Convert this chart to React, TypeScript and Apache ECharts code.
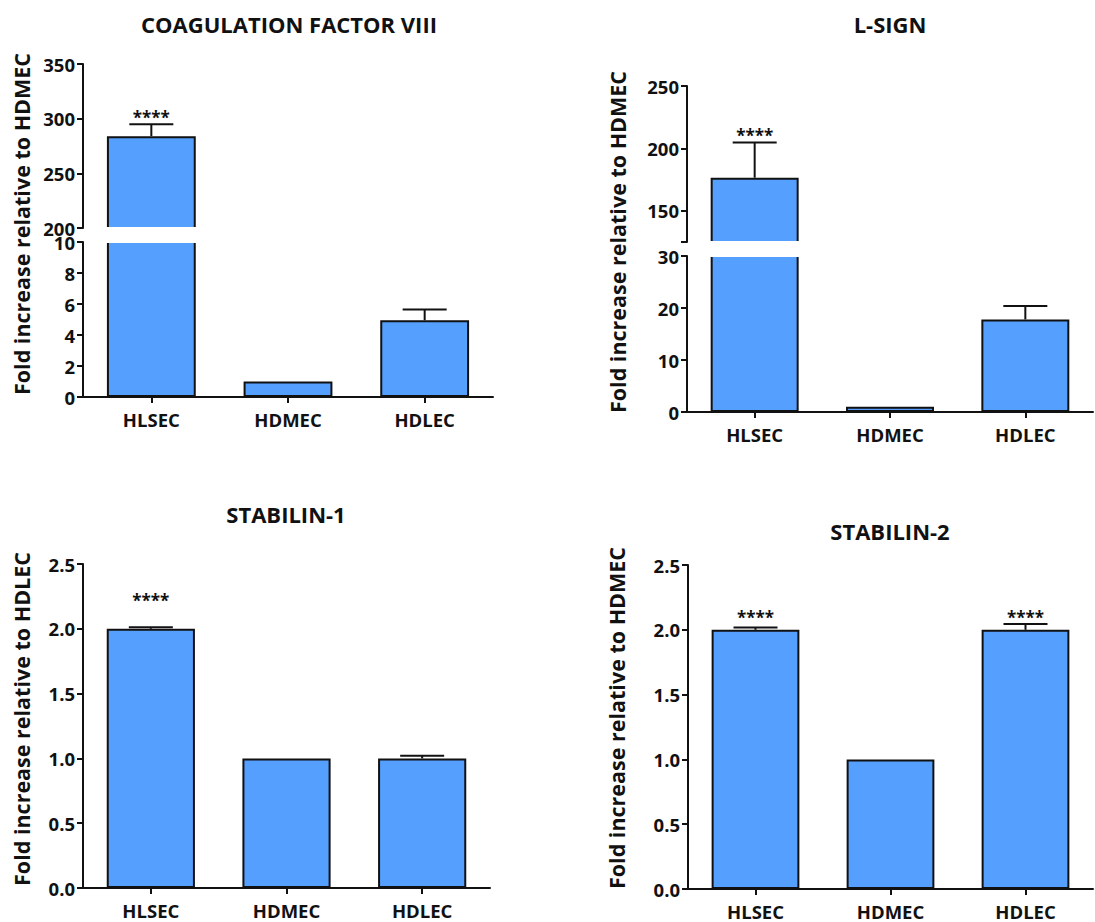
import React, { useEffect, useRef } from 'react';
import * as echarts from 'echarts';

// ---------------- data ----------------
const categories = ['HLSEC', 'HDMEC', 'HDLEC'];

const f8Title = 'COAGULATION FACTOR VIII';
const f8YTitle = 'Fold increase relative to HDMEC';
const f8Mean = [284, 1, 4.95];
const f8Err = [11, 0, 0.7];
const f8Stars = ['****', '', ''];
const f8UpperRange = [200, 350];
const f8UpperTicks = [200, 250, 300, 350];
const f8LowerRange = [0, 10];
const f8LowerTicks = [0, 2, 4, 6, 8, 10];

const lsignTitle = 'L-SIGN';
const lsignYTitle = 'Fold increase relative to HDMEC';
const lsignMean = [176.5, 1, 17.8];
const lsignErr = [28.3, 0, 2.6];
const lsignStars = ['****', '', ''];
const lsignUpperRange = [125, 250];
const lsignUpperTickMarks = [125, 150, 200, 250];
const lsignUpperTicks = [150, 200, 250];
const lsignLowerRange = [0, 30];
const lsignLowerTicks = [0, 10, 20, 30];

const stab1Title = 'STABILIN-1';
const stab1YTitle = 'Fold increase relative to HDLEC';
const stab1Mean = [2.0, 1.0, 1.0];
const stab1Err = [0.012, 0, 0.02];
const stab1Stars = ['****', '', ''];

const stab2Title = 'STABILIN-2';
const stab2YTitle = 'Fold increase relative to HDMEC';
const stab2Mean = [2.0, 1.0, 2.0];
const stab2Err = [0.018, 0, 0.044];
const stab2Stars = ['****', '', '****'];

const stabRange = [0, 2.5];
const stabTicks = [0, 0.5, 1.0, 1.5, 2.0, 2.5];

// ---------------- style / layout ----------------
const FONT = '"Open Sans", "DejaVu Sans", sans-serif';
const INK = '#111111';
const BAR = '#559ffe';

type Seg = { top: number; bottom: number; range: number[]; tickMarks: number[]; labels: number[] };
type Panel = {
  title: string; titleX: number; titleY: number;
  yTitle: string; yTitleX: number; yTitleY: number;
  left: number; width: number; segs: Seg[];
  mean: number[]; err: number[]; stars: string[]; starGap: number;
  fmt: (v: number) => string;
};

const intFmt = (v: number) => String(v);
const decFmt = (v: number) => v.toFixed(1);

const panels: Panel[] = [
  {
    title: f8Title, titleX: 289, titleY: 24,
    yTitle: f8YTitle, yTitleX: 21, yTitleY: 224,
    left: 83, width: 410,
    segs: [
      { top: 64, bottom: 228, range: f8UpperRange, tickMarks: f8UpperTicks, labels: f8UpperTicks },
      { top: 242, bottom: 397, range: f8LowerRange, tickMarks: f8LowerTicks, labels: f8LowerTicks },
    ],
    mean: f8Mean, err: f8Err, stars: f8Stars, starGap: 10, fmt: intFmt,
  },
  {
    title: lsignTitle, titleX: 890, titleY: 24,
    yTitle: lsignYTitle, yTitleX: 617, yTitleY: 242,
    left: 687, width: 406,
    segs: [
      { top: 86, bottom: 242, range: lsignUpperRange, tickMarks: lsignUpperTickMarks, labels: lsignUpperTicks },
      { top: 256, bottom: 412, range: lsignLowerRange, tickMarks: lsignLowerTicks, labels: lsignLowerTicks },
    ],
    mean: lsignMean, err: lsignErr, stars: lsignStars, starGap: 10, fmt: intFmt,
  },
  {
    title: stab1Title, titleX: 286, titleY: 514,
    yTitle: stab1YTitle, yTitleX: 21, yTitleY: 719,
    left: 83, width: 407,
    segs: [{ top: 564, bottom: 888, range: stabRange, tickMarks: stabTicks, labels: stabTicks }],
    mean: stab1Mean, err: stab1Err, stars: stab1Stars, starGap: 30, fmt: decFmt,
  },
  {
    title: stab2Title, titleX: 890, titleY: 531,
    yTitle: stab2YTitle, yTitleX: 616, yTitleY: 718,
    left: 688, width: 405,
    segs: [{ top: 565, bottom: 889, range: stabRange, tickMarks: stabTicks, labels: stabTicks }],
    mean: stab2Mean, err: stab2Err, stars: stab2Stars, starGap: 10, fmt: decFmt,
  },
];

function buildOption() {
  const grid: any[] = [];
  const xAxis: any[] = [];
  const yAxis: any[] = [];
  const series: any[] = [];
  const graphic: any[] = [];

  panels.forEach((p) => {
    graphic.push({
      type: 'text', x: p.titleX, y: p.titleY, z: 100,
      style: { text: p.title, align: 'center', verticalAlign: 'middle', fill: INK, fontSize: 22, fontWeight: 'bold', fontFamily: FONT },
    });
    graphic.push({
      type: 'text', x: p.yTitleX, y: p.yTitleY, rotation: Math.PI / 2, z: 100,
      style: { text: p.yTitle, align: 'center', verticalAlign: 'middle', fill: INK, fontSize: 21.5, fontWeight: 'bold', fontFamily: FONT },
    });

    const starred = p.stars.map((s, i) => (s ? i : -1)).filter((i) => i >= 0);
    const starLevel = Math.max(...starred.map((i) => p.mean[i] + p.err[i]));

    p.segs.forEach((s, si) => {
      const gi = grid.length;
      const isBottom = si === p.segs.length - 1;
      grid.push({ left: p.left, top: s.top, width: p.width, height: s.bottom - s.top, outerBoundsMode: 'none' });
      xAxis.push({
        type: 'category', gridIndex: gi, data: categories, show: isBottom,
        axisLine: { show: true, onZero: false, lineStyle: { color: INK, width: 2 } },
        axisTick: { show: true, alignWithLabel: true, length: 6, lineStyle: { color: INK, width: 2 } },
        axisLabel: { color: INK, fontSize: 18.5, fontWeight: 'bold', fontFamily: FONT, margin: 15, lineHeight: 14 },
        splitLine: { show: false },
      });
      yAxis.push({
        type: 'value', gridIndex: gi, min: s.range[0], max: s.range[1],
        axisLine: { show: true, onZero: false, lineStyle: { color: INK, width: 2 } },
        axisTick: { show: true, length: 6, lineStyle: { color: INK, width: 2 }, customValues: s.tickMarks },
        axisLabel: {
          color: INK, fontSize: 18.5, fontWeight: 'bold', fontFamily: FONT, margin: 8, lineHeight: 13,
          customValues: s.labels, formatter: p.fmt,
        },
        splitLine: { show: false },
      });
      series.push({
        type: 'bar', xAxisIndex: gi, yAxisIndex: gi, silent: true, clip: true,
        data: p.mean.map((v) => (v > s.range[0] ? v : '-')),
        barWidth: '65%',
        itemStyle: { color: BAR, borderColor: INK, borderWidth: 2 },
      });
      const errData = p.mean
        .map((v, i) => [i, v, p.err[i]])
        .filter((d) => d[1] >= s.range[0] && d[1] <= s.range[1] && d[2] > 0);
      series.push({
        type: 'custom', xAxisIndex: gi, yAxisIndex: gi, silent: true,
        data: errData,
        renderItem: (params: any, api: any) => {
          const i = api.value(0), v = api.value(1), e = api.value(2);
          const a = api.coord([i, v]);
          const b = api.coord([i, v + e]);
          return {
            type: 'group',
            children: [
              { type: 'line', shape: { x1: a[0], y1: a[1], x2: b[0], y2: b[1] }, style: { stroke: INK, lineWidth: 2 } },
              { type: 'line', shape: { x1: b[0] - 22, y1: b[1], x2: b[0] + 22, y2: b[1] }, style: { stroke: INK, lineWidth: 2 } },
            ],
          };
        },
      });
      if (starred.length && starLevel >= s.range[0] && starLevel <= s.range[1]) {
        series.push({
          type: 'custom', xAxisIndex: gi, yAxisIndex: gi, silent: true,
          data: starred.map((i) => [i, starLevel]),
          renderItem: (params: any, api: any) => {
            const i = api.value(0);
            const c = api.coord([i, api.value(1)]);
            return {
              type: 'text', x: c[0], y: c[1] - p.starGap + 3,
              style: { text: p.stars[i], align: 'center', verticalAlign: 'middle', fill: INK, fontSize: 17, fontWeight: 'bold', fontFamily: FONT },
            };
          },
        });
      }
    });

    // white break band across bars spanning the axis break
    if (p.segs.length === 2) {
      const up = p.segs[0];
      const lo = p.segs[1];
      const step = p.width / categories.length;
      p.mean.forEach((v, i) => {
        if (v > up.range[0]) {
          const cx = p.left + step * (i + 0.5);
          graphic.push({
            type: 'rect', z: 100,
            shape: { x: cx - 48, y: up.bottom - 1, width: 96, height: lo.top - up.bottom + 2 },
            style: { fill: '#ffffff' },
          });
        }
      });
    }
  });

  return { animation: false, backgroundColor: '#ffffff', grid, xAxis, yAxis, series, graphic };
}

export default function App() {
  const ref = useRef<HTMLDivElement>(null);
  useEffect(() => {
    const chart = echarts.init(ref.current!, null, { renderer: 'svg' });
    chart.setOption(buildOption() as any);
    return () => chart.dispose();
  }, []);
  return <div ref={ref} style={{ position: 'absolute', left: 0, top: 0, width: 1095, height: 922 }} />;
}
